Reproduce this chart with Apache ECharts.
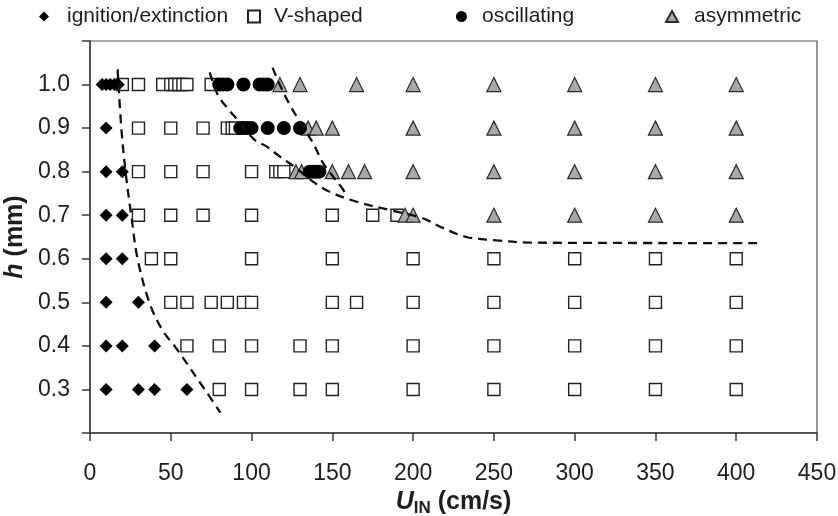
<!DOCTYPE html>
<html>
<head>
<meta charset="utf-8">
<script src="https://cdn.jsdelivr.net/npm/echarts@6/dist/echarts.min.js"></script>
<style>
  html, body { margin: 0; padding: 0; background: #fff; }
  #chart { width: 838px; height: 516px; }
</style>
</head>
<body>
<div id="chart"></div>
<script>
// Flame regimes in the (U_IN, h) plane: [U_IN (cm/s), h (mm)]
const ignitionExtinction = [
  [7.5, 1.0], [10, 1.0], [12.5, 1.0], [15, 1.0], [17.5, 1.0],
  [10, 0.9],
  [10, 0.8], [20, 0.8],
  [10, 0.7], [20, 0.7],
  [10, 0.6], [20, 0.6],
  [10, 0.5], [30, 0.5],
  [10, 0.4], [20, 0.4], [40, 0.4],
  [10, 0.3], [30, 0.3], [40, 0.3], [60, 0.3]
];

const vShaped = [
  [20, 1.0], [30, 1.0], [45, 1.0], [50, 1.0], [52.5, 1.0], [55, 1.0], [57.5, 1.0], [60, 1.0], [75, 1.0],
  [30, 0.9], [50, 0.9], [70, 0.9], [85, 0.9], [88, 0.9], [90, 0.9],
  [30, 0.8], [50, 0.8], [70, 0.8], [100, 0.8], [115, 0.8], [117.5, 0.8], [120, 0.8],
  [30, 0.7], [50, 0.7], [70, 0.7], [100, 0.7], [150, 0.7], [175, 0.7], [190, 0.7],
  [38, 0.6], [50, 0.6], [100, 0.6], [150, 0.6], [200, 0.6], [250, 0.6], [300, 0.6], [350, 0.6], [400, 0.6],
  [50, 0.5], [60, 0.5], [75, 0.5], [85, 0.5], [95, 0.5], [100, 0.5], [150, 0.5], [165, 0.5],
  [200, 0.5], [250, 0.5], [300, 0.5], [350, 0.5], [400, 0.5],
  [60, 0.4], [80, 0.4], [100, 0.4], [130, 0.4], [150, 0.4], [200, 0.4], [250, 0.4], [300, 0.4], [350, 0.4], [400, 0.4],
  [80, 0.3], [100, 0.3], [130, 0.3], [150, 0.3], [200, 0.3], [250, 0.3], [300, 0.3], [350, 0.3], [400, 0.3]
];

const oscillating = [
  [80, 1.0], [82.5, 1.0], [85, 1.0], [95, 1.0], [105, 1.0], [107.5, 1.0], [110, 1.0],
  [93, 0.9], [95, 0.9], [97.5, 0.9], [100, 0.9], [110, 0.9], [120, 0.9], [130, 0.9],
  [136, 0.8], [138, 0.8], [140, 0.8], [142, 0.8]
];

const asymmetric = [
  [117.5, 1.0], [130, 1.0], [165, 1.0], [200, 1.0], [250, 1.0], [300, 1.0], [350, 1.0], [400, 1.0],
  [135, 0.9], [140, 0.9], [150, 0.9], [200, 0.9], [250, 0.9], [300, 0.9], [350, 0.9], [400, 0.9],
  [127.5, 0.8], [131, 0.8], [150, 0.8], [160, 0.8], [170, 0.8], [200, 0.8], [250, 0.8], [300, 0.8], [350, 0.8], [400, 0.8],
  [195, 0.7], [200, 0.7], [250, 0.7], [300, 0.7], [350, 0.7], [400, 0.7]
];

// Regime boundaries (dashed guide curves)
const boundaryIgnition = [
  [17.1, 1.035], [19.4, 0.9], [22.1, 0.797], [25.6, 0.698], [29.5, 0.599],
  [36.9, 0.498], [45, 0.435], [52.5, 0.399], [71, 0.3], [80.7, 0.247]
];
const boundaryOscillating = [
  [74.1, 1.028], [79, 0.977], [85.2, 0.945], [90.6, 0.922], [101.9, 0.873],
  [109.2, 0.858], [117.4, 0.835], [127.7, 0.808], [138, 0.777], [148.3, 0.754],
  [164.9, 0.731], [185.5, 0.712], [206, 0.693], [218.3, 0.671], [232.9, 0.65],
  [249.2, 0.643], [274, 0.637], [414.4, 0.636]
];
const boundaryAsymmetric = [
  [113, 1.039], [117.4, 1.0], [123.6, 0.954], [129.8, 0.915], [138, 0.866],
  [144.2, 0.82], [150.4, 0.789], [155.1, 0.767], [158.7, 0.747]
];

const xMin = 0, xMax = 450, xStep = 50;
const yMin = 0.2, yMax = 1.1, yStep = 0.1;

const FONT = "'Liberation Sans', Arial, sans-serif";
const TEXT = '#1e1e1e';
const AXIS = '#3a3a3a';

function legendBox(name, left, width, height, pad) {
  return {
    data: [name],
    left: left,
    top: 6,
    padding: 0,
    itemWidth: width,
    itemHeight: height,
    selectedMode: false,
    textStyle: { fontFamily: FONT, fontSize: 21, color: TEXT, padding: [0, 0, 0, pad] }
  };
}

function boundary(data) {
  return {
    type: 'line',
    data: data,
    smooth: 0.35,
    symbol: 'none',
    silent: true,
    z: 5,
    lineStyle: { color: '#111', width: 2.3, type: [9, 6] }
  };
}

const chart = echarts.init(document.getElementById('chart'), null, { renderer: 'canvas' });

chart.setOption({
  animation: false,
  backgroundColor: '#fff',
  textStyle: { fontFamily: FONT },
  legend: [
    legendBox('ignition/extinction', 39, 10, 10, 13),
    legendBox('V-shaped', 247, 12, 12, 9),
    legendBox('oscillating', 456, 11, 11, 10),
    legendBox('asymmetric', 665, 12, 11, 11)
  ],
  grid: {
    left: 90, right: 21, top: 41, bottom: 83,
    outerBoundsMode: 'none',
    containLabel: false,
    show: true, borderColor: '#555', borderWidth: 1.2, backgroundColor: 'transparent'
  },
  xAxis: {
    type: 'value',
    min: xMin, max: xMax, interval: xStep,
    name: '{u|U}{sub|IN}{t| (cm/s)}',
    nameLocation: 'middle',
    nameGap: 49,
    nameTextStyle: {
      rich: {
        u: { fontFamily: FONT, fontSize: 25, fontWeight: 'bold', fontStyle: 'italic', color: TEXT },
        sub: { fontFamily: FONT, fontSize: 17, fontWeight: 'bold', color: TEXT, verticalAlign: 'bottom', padding: [12, 0, 0, 0] },
        t: { fontFamily: FONT, fontSize: 25, fontWeight: 'bold', color: TEXT }
      }
    },
    axisLine: { show: true, lineStyle: { color: AXIS, width: 1.5 } },
    axisTick: { show: true, inside: false, length: 8, lineStyle: { color: AXIS, width: 1.5 } },
    axisLabel: { fontFamily: FONT, fontSize: 23, color: TEXT, margin: 29 },
    splitLine: { show: false }
  },
  yAxis: {
    type: 'value',
    min: yMin, max: yMax, interval: yStep,
    name: '{h|h}{t| (mm)}',
    nameLocation: 'middle',
    nameGap: 50,
    nameRotate: 90,
    nameTextStyle: {
      rich: {
        h: { fontFamily: FONT, fontSize: 25, fontWeight: 'bold', fontStyle: 'italic', color: TEXT },
        t: { fontFamily: FONT, fontSize: 25, fontWeight: 'bold', color: TEXT }
      }
    },
    axisLine: { show: true, lineStyle: { color: AXIS, width: 1.5 } },
    axisTick: { show: true, inside: false, length: 8, lineStyle: { color: AXIS, width: 1.5 } },
    axisLabel: {
      fontFamily: FONT, fontSize: 23, color: TEXT, margin: 20,
      formatter: function (v) { return (v < 0.25 || v > 1.05) ? '' : v.toFixed(1); }
    },
    splitLine: { show: false }
  },
  series: [
    {
      name: 'V-shaped', type: 'scatter', data: vShaped, z: 2,
      symbol: 'rect', symbolSize: 12,
      itemStyle: { color: '#fff', borderColor: '#222', borderWidth: 1.4, opacity: 1 }
    },
    {
      name: 'asymmetric', type: 'scatter', data: asymmetric, z: 3,
      symbol: 'triangle', symbolSize: 14,
      itemStyle: { color: '#a8a8a8', borderColor: '#2a2a2a', borderWidth: 1.2, opacity: 1 }
    },
    {
      name: 'oscillating', type: 'scatter', data: oscillating, z: 4,
      symbol: 'circle', symbolSize: 14,
      itemStyle: { color: '#000', opacity: 1 }
    },
    {
      name: 'ignition/extinction', type: 'scatter', data: ignitionExtinction, z: 4,
      symbol: 'diamond', symbolSize: 13,
      itemStyle: { color: '#000', opacity: 1 }
    },
    boundary(boundaryIgnition),
    boundary(boundaryOscillating),
    boundary(boundaryAsymmetric)
  ]
});
</script>
</body>
</html>
